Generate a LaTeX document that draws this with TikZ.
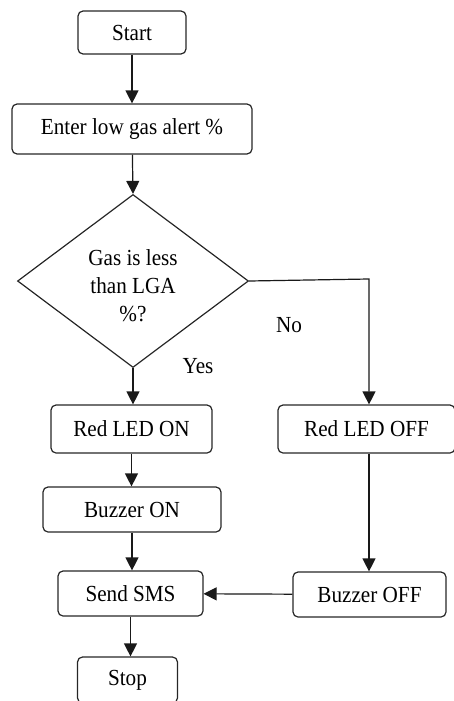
\documentclass[tikz,border=0pt]{standalone}
\usepackage{fontspec}
\setmainfont{Liberation Serif}
\newfontfamily\flowfont{Liberation Serif}[FakeStretch=0.92]
\usetikzlibrary{arrows.meta,shapes.geometric}
\begin{document}
\begin{tikzpicture}[x=1pt,y=-1pt,
  every node/.style={font=\flowfont\fontsize{23}{28}\selectfont},
  procbox/.style={draw=black!85,line width=1.2pt,rounded corners=5pt,inner sep=0pt},
  flow/.style={draw=black!90,line width=1.2pt,-{Triangle[length=13pt,width=13pt]}},
  lbl/.style={inner sep=0pt}]
\useasboundingbox (0,0) rectangle (454,701);
\node[procbox,minimum width=108pt,minimum height=43pt] (start) at (132,32.5) {Start};
\node[procbox,minimum width=240pt,minimum height=50pt] (enter) at (132,129) {Enter low gas alert \%};
\node[draw=black!85,line width=1.2pt,diamond,inner sep=0pt,aspect=1.335,minimum width=231pt,minimum height=173pt] (dec) at (133,281) {};
\node[lbl,align=center] (dectext) at (133,286) {Gas is less\\than LGA\\\%?};
\node[procbox,minimum width=161pt,minimum height=48pt] (redon) at (131.5,429) {Red LED ON};
\node[procbox,minimum width=177pt,minimum height=48pt] (redoff) at (366.5,429) {Red LED OFF};
\node[procbox,minimum width=178pt,minimum height=45pt] (buzon) at (132,509.5) {Buzzer ON};
\node[procbox,minimum width=145pt,minimum height=45pt] (sms) at (130.5,593.5) {Send SMS};
\node[procbox,minimum width=153pt,minimum height=45pt] (buzoff) at (369.5,594.5) {Buzzer OFF};
\node[procbox,minimum width=100pt,minimum height=46pt] (stop) at (127.5,680) {Stop};
\node[lbl] (no) at (289,325) {No};
\node[lbl] (yes) at (198,366) {Yes};
\coordinate (nobend) at (369,279);
\draw[flow] (start) -- (enter);
\draw[flow] (enter) -- (dec.north);
\draw[flow] (dec.south) -- (redon.north -| dec.south);
\draw[flow] (dec.east) -- (nobend) -- (nobend |- redoff.north);
\draw[flow] (redon) -- (buzon.north -| redon);
\draw[flow] (buzon) -- (sms.north -| buzon);
\draw[flow] (nobend |- redoff.south) -- (nobend |- buzoff.north);
\draw[flow] (buzoff) -- (sms);
\draw[flow] (sms) -- (stop.north -| sms);
\end{tikzpicture}
\end{document}
